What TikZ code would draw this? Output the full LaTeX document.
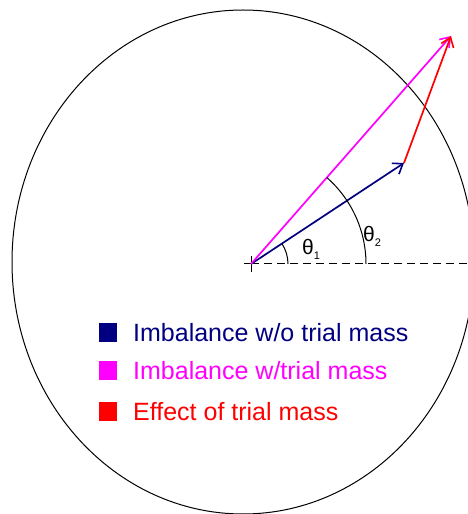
\documentclass[tikz,border=0pt]{standalone}
\usepackage{fontspec}
\setmainfont{Liberation Sans}
\usetikzlibrary{arrows.meta,calc}
\definecolor{navyc}{RGB}{0,0,128}
\definecolor{magc}{RGB}{255,0,255}
\definecolor{redc}{RGB}{255,0,0}
\begin{document}
\begin{tikzpicture}[x=1pt,y=1pt,
  vec/.style={line width=1.7pt,-{Straight Barb[length=9pt,width=13pt,line width=1.6pt]}},
  thin line/.style={line width=1pt,black},
  legbox/.style={anchor=south west,inner sep=0pt,minimum width=18pt,minimum height=19pt},
  legtext/.style={anchor=base west,inner sep=0pt,font=\fontsize{25}{30}\selectfont},
  anglab/.style={inner sep=0pt,anchor=base west,font=\fontsize{21}{24}\selectfont}]
\useasboundingbox (0,0) rectangle (467,514);
% circle
\coordinate (C) at (243,252);
\draw[thin line] (C) ellipse [x radius=231, y radius=252];
% origin and reference line
\coordinate (O) at (251,250);
\coordinate (E) at (467,250);
\draw[thin line,dash pattern=on 8pt off 5pt] (O) -- (E);
\draw[thin line] ($(O)+(-7,0)$) -- ($(O)+(7,0)$);
\draw[thin line] ($(O)+(0,-8)$) -- ($(O)+(0,8)$);
% vectors
\coordinate (B) at (404,351);
\coordinate (T) at (451,478);
\draw[vec,navyc] (O) -- (B);
\draw[vec,magc] (O) -- (T);
\draw[vec,redc] (B) -- (T);
% angle arcs
\draw[thin line] ($(O)+(37,0)$) arc[start angle=0,end angle=33.4,radius=37];
\draw[thin line] ($(O)+(115,0)$) arc[start angle=0,end angle=48.7,radius=115];
\node[anglab] (t1) at (302,259) {θ\raisebox{-5pt}{\fontsize{11}{13}\selectfont 1}};
\node[anglab] (t2) at (363,272) {θ\raisebox{-5pt}{\fontsize{11}{13}\selectfont 2}};
% legend
\node[legbox,fill=navyc] (s1) at (99,172) {};
\node[legbox,fill=magc] (s2) at (99,134) {};
\node[legbox,fill=redc] (s3) at (99,93) {};
\node[legtext,text=navyc] (l1) at (133,172) {Imbalance w/o trial mass};
\node[legtext,text=magc] (l2) at (133,134) {Imbalance w/trial mass};
\node[legtext,text=redc] (l3) at (133,93) {Effect of trial mass};
\end{tikzpicture}
\end{document}
